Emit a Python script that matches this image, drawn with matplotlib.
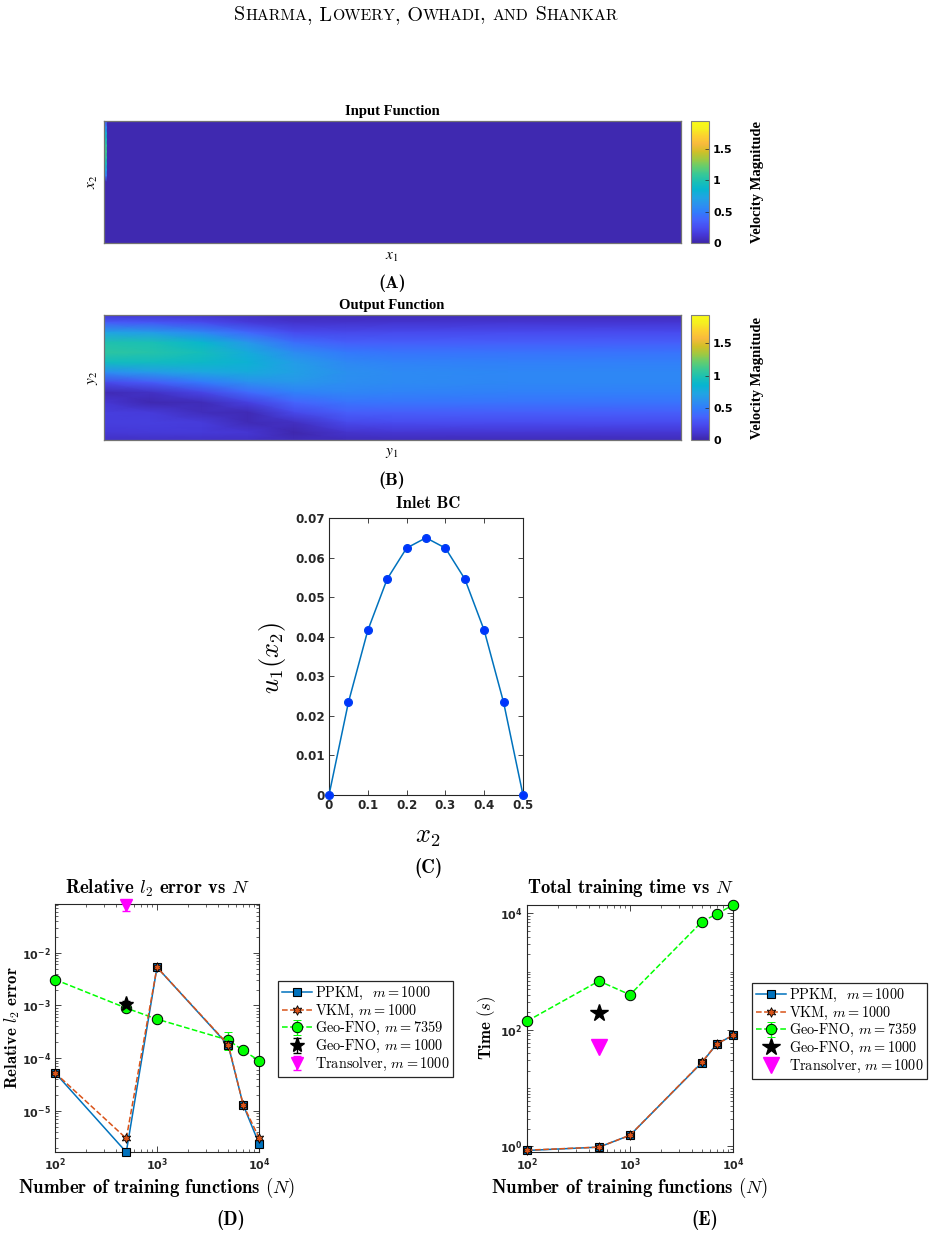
import numpy as np
import matplotlib
matplotlib.use("Agg")
import matplotlib.pyplot as plt
from matplotlib.colors import LinearSegmentedColormap
from matplotlib.ticker import LogLocator, FuncFormatter, NullFormatter

plt.rcParams['mathtext.fontset'] = 'dejavusans'
plt.rcParams['font.family'] = 'DejaVu Sans'

# ---------------- data ----------------
# panel A: input function (uniform field + thin inlet strip on the left edge)
a_level = 0.03
inlet_rows = [0.0, 0.05, 0.10, 0.15, 0.20, 0.25, 0.30, 0.35, 0.40, 0.45, 0.50, 1.0]
inlet_vals = [0.30, 0.55, 0.80, 0.95, 1.05, 1.10, 1.05, 0.95, 0.75, 0.50, 0.03, 0.03]

# panel B: output velocity magnitude on a coarse grid (rows from top, cols from left)
b_cols = [0.0, 0.08, 0.17, 0.25, 0.33, 0.42, 0.50, 0.70, 1.0]
b_rows = [0.0, 0.06, 0.14, 0.22, 0.30, 0.38, 0.46, 0.54, 0.62, 0.70, 0.78, 0.86, 0.94, 1.0]
b_vals = [
    [0.12, 0.12, 0.10, 0.08, 0.05, 0.05, 0.05, 0.05, 0.05],
    [0.32, 0.30, 0.24, 0.15, 0.10, 0.10, 0.11, 0.12, 0.12],
    [0.72, 0.68, 0.55, 0.38, 0.24, 0.22, 0.23, 0.24, 0.24],
    [1.00, 0.97, 0.86, 0.64, 0.42, 0.34, 0.34, 0.34, 0.34],
    [1.05, 1.02, 0.94, 0.78, 0.58, 0.47, 0.45, 0.44, 0.44],
    [0.92, 0.92, 0.89, 0.82, 0.68, 0.56, 0.53, 0.51, 0.51],
    [0.58, 0.66, 0.74, 0.77, 0.70, 0.60, 0.57, 0.55, 0.55],
    [0.22, 0.32, 0.47, 0.60, 0.64, 0.59, 0.57, 0.55, 0.55],
    [0.04, 0.08, 0.20, 0.40, 0.52, 0.54, 0.53, 0.51, 0.51],
    [0.12, 0.03, 0.05, 0.18, 0.37, 0.44, 0.45, 0.44, 0.44],
    [0.16, 0.15, 0.06, 0.04, 0.22, 0.34, 0.34, 0.34, 0.34],
    [0.16, 0.17, 0.15, 0.04, 0.07, 0.22, 0.24, 0.24, 0.24],
    [0.13, 0.14, 0.14, 0.12, 0.02, 0.10, 0.12, 0.12, 0.12],
    [0.08, 0.08, 0.08, 0.08, 0.05, 0.05, 0.05, 0.05, 0.05],
]

# panel C: inlet BC
x2 = [0, 0.05, 0.1, 0.15, 0.2, 0.25, 0.3, 0.35, 0.4, 0.45, 0.5]
u1 = [0, 0.0234, 0.0416, 0.0546, 0.0624, 0.065, 0.0624, 0.0546, 0.0416, 0.0234, 0]

# panels D/E
n_train = [100, 500, 1000, 5000, 7000, 10000]
n_single = [500]
err_ppkm = [5.3e-5, 1.65e-6, 5.3e-3, 1.75e-4, 1.3e-5, 2.4e-6]
err_vkm = [5.3e-5, 3.0e-6, 5.3e-3, 1.8e-4, 1.3e-5, 3.1e-6]
err_geo = [3.1e-3, 8.9e-4, 5.5e-4, 2.2e-4, 1.4e-4, 9.0e-5]
err_geo_lo = [0, 0, 0, 0.8e-4, 0, 0]
err_geo_hi = [0, 0, 0, 0.9e-4, 0, 0]
err_geo1000 = [1.07e-3]
err_geo1000_bar = [1.2e-4]
err_trans = [0.082]
err_trans_bar = [0.02]

time_ppkm = [0.85, 0.97, 1.55, 27.5, 58, 80]
time_vkm = [0.86, 0.97, 1.55, 28, 58, 80]
time_geo = [141, 690, 400, 7200, 9800, 13900]
time_geo_bar = [0, 0, 0, 0, 0, 0]
time_geo1000 = [195]
time_trans = [50]

# ---------------- style ----------------
parula = LinearSegmentedColormap.from_list('parula', [
    (0.2422, 0.1504, 0.6603), (0.2706, 0.2147, 0.8364), (0.2813, 0.3006, 0.9414),
    (0.2699, 0.3892, 0.9906), (0.1963, 0.4847, 0.9892), (0.1687, 0.5703, 0.9359),
    (0.1248, 0.6459, 0.8883), (0.0297, 0.7082, 0.8163), (0.0964, 0.7500, 0.7120),
    (0.2161, 0.7843, 0.5923), (0.3909, 0.8029, 0.4354), (0.6174, 0.7876, 0.2612),
    (0.8203, 0.7498, 0.1535), (0.9728, 0.7298, 0.2394), (0.9892, 0.8136, 0.1885),
    (0.9628, 0.9373, 0.1265), (0.9769, 0.9839, 0.0805)])
VMAX = 1.94
BLUE = (0, 0.447, 0.741)
ORANGE = (0.85, 0.325, 0.098)
AXC = '0.15'

W, H = 936, 1236
fig = plt.figure(figsize=(W / 100, H / 100), dpi=100)


def rect(l, t, w, h):
    return [l / W, 1 - (t + h) / H, w / W, h / H]


def ftext(x, y, s, **kw):
    kw.setdefault('ha', 'center')
    kw.setdefault('va', 'center')
    return fig.text(x / W, 1 - y / H, s, **kw)


def small_caps(cx, y, s, big=14.5, small=11.4):
    # header written in small caps, built from runs of two sizes
    runs = []
    for ch in s:
        low = ch.islower()
        if runs and runs[-1][1] == low:
            runs[-1][0] += ch
        else:
            runs.append([ch, low])
    r = fig.canvas.get_renderer()
    texts, x = [], 0.0
    for txt, low in runs:
        t = ftext(0, y, txt.upper(), family='cmr10', fontsize=small if low else big,
                  ha='left', va='baseline')
        w = t.get_window_extent(r).width
        texts.append((t, x))
        x += w
    for t, off in texts:
        t.set_x((cx - x / 2 + off) / W)


def cbar(ax_img, im, l, t, h):
    cax = fig.add_axes(rect(l, t, 18, h))
    cb = fig.colorbar(im, cax=cax)
    cb.set_ticks([0, 0.5, 1, 1.5])
    cb.set_ticklabels(['0', '0.5', '1', '1.5'])
    cax.tick_params(direction='in', length=3, width=0.5, labelsize=8, color=AXC, pad=3)
    for lab in cax.get_yticklabels():
        lab.set_fontweight('bold')
    cb.outline.set_edgecolor('0.5')
    cb.outline.set_linewidth(0.8)


def img_axes(ax):
    ax.set_xticks([])
    ax.set_yticks([])
    for s in ax.spines.values():
        s.set_color('0.45')
        s.set_linewidth(0.9)


# header
small_caps(426, 20, 'Sharma, Lowery, Owhadi, and Shankar')

# ---------------- panel A ----------------
axA = fig.add_axes(rect(104, 121, 577, 122))
imA = axA.imshow([[a_level]], cmap=parula, vmin=0, vmax=VMAX, aspect='auto',
                 extent=[0, 1, 1, 0])
axA.pcolormesh([0, 0.004], inlet_rows, np.array([inlet_vals, inlet_vals]).T,
               cmap=parula, vmin=0, vmax=VMAX, shading='gouraud')
axA.set_xlim(0, 1)
axA.set_ylim(1, 0)
img_axes(axA)
cbar(axA, imA, 691, 121, 122)
ftext(392, 112, 'Input Function', family='Liberation Serif', fontweight='bold', fontsize=10.5)
ftext(392, 256, '$x_1$', fontsize=11, math_fontfamily='stix')
ftext(93, 182, '$x_2$', fontsize=11, math_fontfamily='stix', rotation=90)
ftext(757, 182, 'Velocity Magnitude', family='Liberation Serif', fontweight='bold',
      fontsize=10.5, rotation=90)
ftext(392, 283, '(A)', family='cmb10', fontsize=13)

# ---------------- panel B ----------------
axB = fig.add_axes(rect(104, 315, 577, 125))
imB = axB.pcolormesh(b_cols, b_rows, np.array(b_vals), cmap=parula, vmin=0, vmax=VMAX,
                     shading='gouraud')
axB.set_xlim(0, 1)
axB.set_ylim(1, 0)
img_axes(axB)
cbar(axB, imB, 691, 315, 125)
ftext(392, 306, 'Output Function', family='Liberation Serif', fontweight='bold', fontsize=10.5)
ftext(392, 453, '$y_1$', fontsize=11, math_fontfamily='stix')
ftext(93, 378, '$y_2$', fontsize=11, math_fontfamily='stix', rotation=90)
ftext(757, 378, 'Velocity Magnitude', family='Liberation Serif', fontweight='bold',
      fontsize=10.5, rotation=90)
ftext(392, 480, '(B)', family='cmb10', fontsize=13)

# ---------------- panel C ----------------
axC = fig.add_axes(rect(329, 518, 194, 277))
axC.plot(x2, u1, color=BLUE, lw=1.1, marker='o', ms=5.5, mfc=(0.0, 0.2, 1.0),
         mec=(0.0, 0.25, 0.95), clip_on=False, zorder=3)
axC.set_xlim(0, 0.5)
axC.set_ylim(0, 0.07)
axC.set_xticks(x2[::2], ['0', '0.1', '0.2', '0.3', '0.4', '0.5'])
axC.set_yticks([0, 0.01, 0.02, 0.03, 0.04, 0.05, 0.06, 0.07],
               ['0', '0.01', '0.02', '0.03', '0.04', '0.05', '0.06', '0.07'])
axC.tick_params(direction='in', top=True, right=True, length=3.5, width=0.6, color=AXC,
                labelsize=8.6, labelcolor=AXC, pad=3)
for lab in axC.get_xticklabels() + axC.get_yticklabels():
    lab.set_fontweight('bold')
for s in axC.spines.values():
    s.set_color(AXC)
    s.set_linewidth(0.8)
ftext(428, 503, 'Inlet BC', family='cmb10', fontsize=12)
ftext(428, 836, '$x_2$', fontsize=19, math_fontfamily='cm')
ftext(272, 658, '$u_1(x_2)$', fontsize=19, math_fontfamily='cm', rotation=90)
ftext(428, 868, '(C)', family='cmb10', fontsize=13.5)


# ---------------- panels D / E ----------------
def style_log(ax):
    ax.set_xscale('log')
    ax.set_yscale('log')
    ax.xaxis.set_major_locator(LogLocator(base=10))
    ax.xaxis.set_minor_locator(LogLocator(base=10, subs=np.arange(2, 10)))
    ax.xaxis.set_minor_formatter(NullFormatter())
    ax.yaxis.set_minor_formatter(NullFormatter())
    fmt = FuncFormatter(lambda v, p: r'$\mathbf{10^{%d}}$' % round(np.log10(v)))
    ax.xaxis.set_major_formatter(fmt)
    ax.yaxis.set_major_formatter(fmt)
    ax.tick_params(which='both', direction='in', top=True, right=True, color=AXC,
                   labelsize=8, labelcolor=AXC)
    ax.tick_params(which='major', length=4, width=0.6, pad=3)
    ax.tick_params(which='minor', length=2.2, width=0.5)
    for s in ax.spines.values():
        s.set_color(AXC)
        s.set_linewidth(0.8)


def legend(ax, handles, labels, l, t):
    leg = ax.legend(handles, labels, loc='upper left',
                    bbox_to_anchor=(l / W, 1 - t / H), bbox_transform=fig.transFigure,
                    prop={'family': 'cmr10', 'size': 10.3}, handlelength=2.1,
                    handletextpad=0.25, labelspacing=0.06, borderpad=0.25,
                    borderaxespad=0, fancybox=False, framealpha=1)
    leg.get_frame().set_edgecolor(AXC)
    leg.get_frame().set_linewidth(0.9)
    for tx in leg.get_texts():
        tx.set_math_fontfamily('cm')
    return leg


labels = ['PPKM,  $m = 1000$', 'VKM, $m = 1000$', 'Geo-FNO, $m = 7359$',
          'Geo-FNO, $m = 1000$', 'Transolver, $m = 1000$']

# D
axD = fig.add_axes(rect(55, 904, 204, 248))
style_log(axD)
hp, = axD.plot(n_train, err_ppkm, '-s', color=BLUE, lw=1.1, ms=6, mfc=BLUE, mec='k',
               mew=0.8, clip_on=False, zorder=4)
hv, = axD.plot(n_train, err_vkm, '--', marker=(6, 1, 0), color=ORANGE, lw=1.1, ms=7,
               mfc=ORANGE, mec='k', mew=0.6, clip_on=False, zorder=5)
hg = axD.errorbar(n_train, err_geo, yerr=[err_geo_lo, err_geo_hi], fmt='--o',
                  color=(0, 1, 0), lw=1.1, ms=7.5, mfc=(0, 1, 0), mec='k', mew=0.7,
                  ecolor=(0, 1, 0), elinewidth=1, capsize=3, zorder=3, clip_on=False)
hs = axD.errorbar(n_single, err_geo1000, yerr=err_geo1000_bar, fmt='*', color='k',
                  ms=11, ecolor='k', elinewidth=1, capsize=3, zorder=6)
ht = axD.errorbar(n_single, err_trans, yerr=err_trans_bar, fmt='v', color=(1, 0, 1),
                  ms=9, ecolor=(1, 0, 1), elinewidth=1.2, capsize=3, zorder=6)
for art in ht.lines[0:1] + tuple(ht.lines[1]) + tuple(ht.lines[2]):
    art.set_clip_on(False)
for art in tuple(hg.lines[1]) + tuple(hg.lines[2]):
    art.set_clip_on(False)
axD.set_xlim(100, 10000)
axD.set_ylim(1.66e-6, 0.084)
legend(axD, [hp, hv, hg, hs, ht], labels, 278, 981)
ftext(157, 888, r'Relative $l_2$ error vs $N$', family='cmb10', fontsize=13.5,
      math_fontfamily='cm')
ftext(157, 1188, r'Number of training functions $(N)$', family='cmb10', fontsize=13.5,
      math_fontfamily='cm')
ftext(12, 1028, r'Relative $l_2$ error', family='cmb10', fontsize=12,
      math_fontfamily='cm', rotation=90)
ftext(231, 1220, '(D)', family='cmb10', fontsize=13.5)

# E
axE = fig.add_axes(rect(527, 905, 206, 247))
style_log(axE)
axE.yaxis.set_major_locator(LogLocator(base=100))
axE.yaxis.set_minor_locator(LogLocator(base=10, subs=np.arange(1, 10)))
ep, = axE.plot(n_train, time_ppkm, '-s', color=BLUE, lw=1.1, ms=6, mfc=BLUE, mec='k',
               mew=0.8, clip_on=False, zorder=4)
ev, = axE.plot(n_train, time_vkm, '--', marker=(6, 1, 0), color=ORANGE, lw=1.1, ms=7,
               mfc=ORANGE, mec='k', mew=0.6, clip_on=False, zorder=5)
eg = axE.errorbar(n_train, time_geo, yerr=time_geo_bar, fmt='--o', color=(0, 1, 0),
                  lw=1.1, ms=7.5, mfc=(0, 1, 0), mec='k', mew=0.7, ecolor=(0, 1, 0),
                  elinewidth=1, capsize=3, zorder=3, clip_on=False)
es, = axE.plot(n_single, time_geo1000, '*', color='k', ms=13, zorder=6)
et, = axE.plot(n_single, time_trans, 'v', color=(1, 0, 1), ms=11, zorder=6)
axE.set_xlim(100, 10000)
axE.set_ylim(0.8, 13900)
legend(axE, [ep, ev, eg, es, et], labels, 752, 983)
ftext(630, 888, r'Total training time vs $N$', family='cmb10', fontsize=13.5,
      math_fontfamily='cm')
ftext(630, 1188, r'Number of training functions $(N)$', family='cmb10', fontsize=13.5,
      math_fontfamily='cm')
ftext(487, 1028, r'Time $(s)$', family='cmb10', fontsize=12, math_fontfamily='cm',
      rotation=90)
ftext(705, 1220, '(E)', family='cmb10', fontsize=13.5)

fig.savefig('out.png', dpi=100)
